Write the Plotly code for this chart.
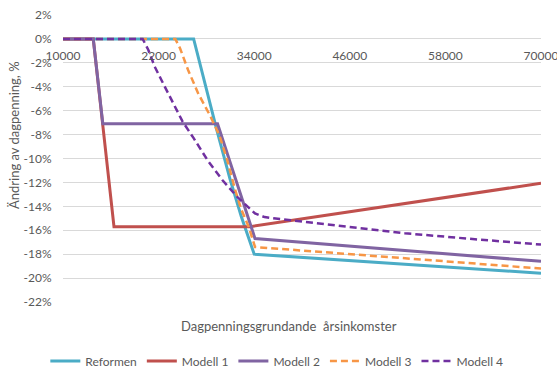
import plotly.graph_objects as go

# ---- data ----
reformen_x = [10000, 26400, 29300, 31000, 32400, 34000, 70000]
reformen_y = [0, 0, -7.6, -11.8, -14.9, -18.0, -19.6]

modell1_x = [10000, 13800, 16400, 33500, 70000]
modell1_y = [0, 0, -15.7, -15.7, -12.07]

modell2_x = [10000, 13800, 15000, 29400, 34100, 70000]
modell2_y = [0, 0, -7.1, -7.1, -16.7, -18.6]

modell3_x = [10000, 24100, 24700, 25700, 27000, 28450, 29650, 30600, 31600, 32400, 33300, 34100, 70000]
modell3_y = [0, 0, -0.8, -2.6, -4.6, -6.4, -8.1, -10.1, -12.6, -14.3, -15.7, -17.4, -19.2]

modell4_x = [10000, 20000, 20700, 21500, 22400, 23600, 25000, 26400, 28200, 30000, 32000, 34100, 35300,
             36400, 44000, 52900, 61700, 70000]
modell4_y = [0, 0, -0.9, -2.3, -3.5, -5.1, -6.9, -8.3, -10.2, -11.8, -13.3, -14.6, -14.9,
             -15.0, -15.6, -16.25, -16.75, -17.2]

x_ticks = [10000, 22000, 34000, 46000, 58000, 70000]
x_ticktext = ["10000", "22000", "34000", "46000", "58000", "70000"]
y_ticks = [2, 0, -2, -4, -6, -8, -10, -12, -14, -16, -18, -20, -22]
y_ticktext = ["2%", "0%", "-2%", "-4%", "-6%", "-8%", "-10%", "-12%", "-14%", "-16%", "-18%", "-20%", "-22%"]

series = [
    ("Reformen", reformen_x, reformen_y, "#4BACC6", "solid", 3),
    ("Modell 1", modell1_x, modell1_y, "#C0504D", "solid", 3),
    ("Modell 2", modell2_x, modell2_y, "#8064A2", "solid", 3),
    ("Modell 3", modell3_x, modell3_y, "#F79646", "7px,4px", 2.5),
    ("Modell 4", modell4_x, modell4_y, "#7030A0", "7px,4px", 2.5),
]

fig = go.Figure()
for name, xs, ys, color, dash, w in series:
    fig.add_trace(go.Scatter(x=xs, y=ys, mode="lines", name=name,
                             line=dict(color=color, width=w, dash=dash)))

FONT = "Lato, 'Open Sans', sans-serif"
GRAY = "#595959"

fig.update_layout(
    width=557, height=375,
    margin=dict(l=63, r=16, t=15, b=73, autoexpand=False),
    paper_bgcolor="white", plot_bgcolor="white",
    font=dict(family=FONT, size=12, color=GRAY),
    showlegend=True,
    legend=dict(orientation="h", xref="container", yref="container",
                x=0.497, xanchor="center", y=1 - 361 / 375, yanchor="middle",
                font=dict(size=12, color=GRAY), itemwidth=30, tracegroupgap=0),
    xaxis=dict(range=[10000, 70000], tickvals=x_ticks, ticktext=x_ticktext,
               showgrid=False, zeroline=False, showline=False,
               anchor="free", position=22 / 24, automargin=False,
               ticklabeloverflow="allow",
               ticks="outside", ticklen=6, tickcolor="rgba(0,0,0,0)",
               tickfont=dict(size=12, color=GRAY)),
    yaxis=dict(range=[-22, 2], tickvals=y_ticks, ticktext=y_ticktext,
               showgrid=True, gridcolor="#D9D9D9", gridwidth=1,
               zeroline=False, showline=False, automargin=False,
               ticks="outside", ticklen=8, tickcolor="rgba(0,0,0,0)",
               tickfont=dict(size=12, color=GRAY)),
    annotations=[
        dict(text="Dagpenningsgrundande\u00a0 årsinkomster", xref="paper", yref="paper",
             x=0.473, y=-0.0825, xanchor="center", yanchor="middle", showarrow=False,
             font=dict(size=13, color=GRAY, family=FONT)),
        dict(text="Ändring av dagpenning, %", xref="paper", yref="paper",
             x=-0.1025, y=0.582, xanchor="center", yanchor="middle", showarrow=False,
             textangle=-90, font=dict(size=13, color=GRAY, family=FONT)),
    ],
)

fig.write_html("out.html",
               config={"displayModeBar": False},
               post_script="document.body.style.margin='0';document.body.style.padding='0';"
                           "document.body.style.overflow='hidden';")
